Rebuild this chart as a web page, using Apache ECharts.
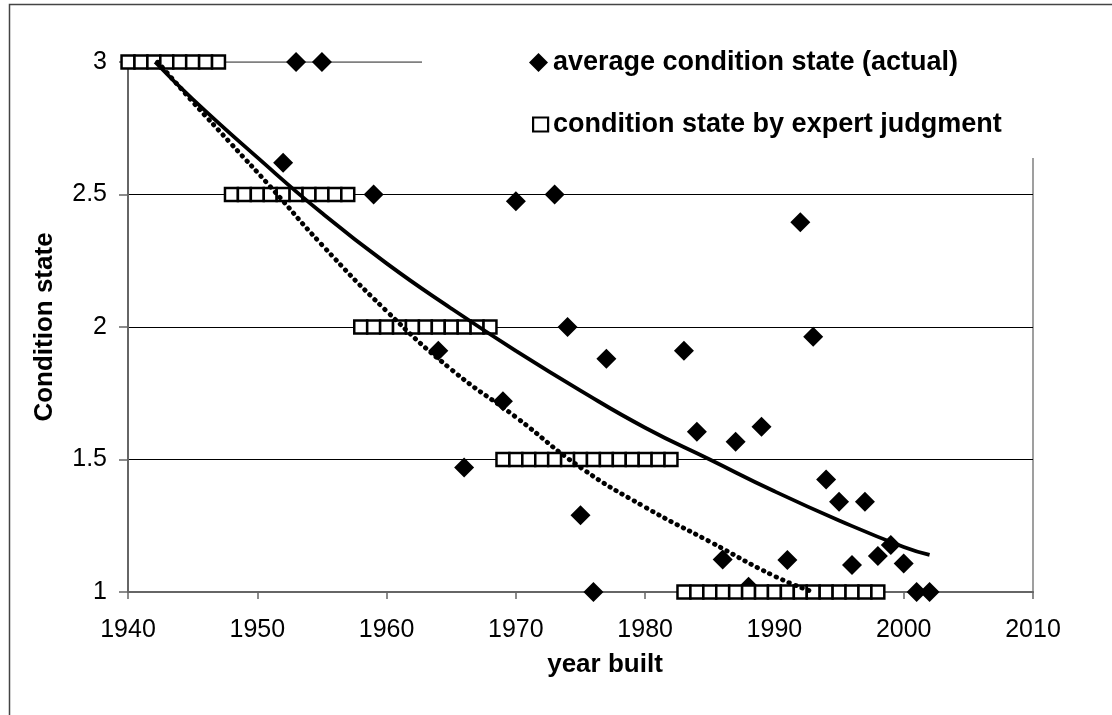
<!DOCTYPE html>
<html>
<head>
<meta charset="utf-8">
<script src="https://cdn.jsdelivr.net/npm/echarts@6/dist/echarts.min.js"></script>
<style>
html,body{margin:0;padding:0;background:#fff;}
#chart{width:1112px;height:715px;}
</style>
</head>
<body>
<div id="chart"></div>
<script>
// ---- data ----
const actualYears = [1952,1953,1955,1959,1964,1966,1969,1970,1973,1974,1975,1976,1977,1983,1984,1986,1987,1988,1989,1991,1992,1993,1994,1995,1996,1997,1998,1999,2000,2001,2002];
const actualValues = [2.62,3.0,3.0,2.5,1.91,1.47,1.72,2.475,2.5,2.0,1.29,1.0,1.88,1.91,1.605,1.123,1.567,1.02,1.624,1.121,2.395,1.963,1.425,1.341,1.102,1.341,1.136,1.177,1.108,1.0,1.0];

const expertYears = [1940,1941,1942,1943,1944,1945,1946,1947,
  1948,1949,1950,1951,1952,1953,1954,1955,1956,1957,
  1958,1959,1960,1961,1962,1963,1964,1965,1966,1967,1968,
  1969,1970,1971,1972,1973,1974,1975,1976,1977,1978,1979,1980,1981,1982,
  1983,1984,1985,1986,1987,1988,1989,1990,1991,1992,1993,1994,1995,1996,1997,1998];
const expertValues = [3,3,3,3,3,3,3,3,
  2.5,2.5,2.5,2.5,2.5,2.5,2.5,2.5,2.5,2.5,
  2,2,2,2,2,2,2,2,2,2,2,
  1.5,1.5,1.5,1.5,1.5,1.5,1.5,1.5,1.5,1.5,1.5,1.5,1.5,1.5,
  1,1,1,1,1,1,1,1,1,1,1,1,1,1,1,1];

// trend curves
const solidTrendYears = [1942.1,1945,1950,1955,1960,1965,1970,1975,1980,1985,1990,1995,2000,2002];
const solidTrendValues = [3.0,2.86,2.64,2.43,2.24,2.07,1.91,1.76,1.62,1.50,1.38,1.27,1.17,1.14];
const dottedTrendYears = [1942.3,1945,1948,1951,1955,1960,1965,1970,1975,1980,1985,1990,1993];
const dottedTrendValues = [3.0,2.85,2.69,2.53,2.31,2.06,1.84,1.66,1.47,1.32,1.19,1.06,1.0];

const xTicks = {min:1940, max:2010, interval:10};
const yTicks = {min:1, max:3, interval:0.5};

const nameActual = 'average condition state (actual)';
const nameExpert = 'condition state by expert judgment';

const zip = (a,b) => a.map((v,i)=>[v,b[i]]);
const FONT = "'Liberation Sans', Arial, sans-serif";

const chart = echarts.init(document.getElementById('chart'), null, {renderer:'canvas'});
chart.setOption({
  animation:false,
  backgroundColor:'#fff',
  grid:{left:128, top:62, right:79, bottom:123, show:true, borderColor:'#808080', borderWidth:1.5, backgroundColor:'transparent'},
  xAxis:{
    type:'value', min:xTicks.min, max:xTicks.max, interval:xTicks.interval,
    name:'year built', nameLocation:'middle', nameGap:60,
    nameTextStyle:{fontFamily:FONT, fontSize:26, fontWeight:'bold', color:'#000', padding:[0,0,0,49]},
    axisLine:{show:true, onZero:false, lineStyle:{color:'#666', width:2}},
    axisTick:{show:true, length:7, lineStyle:{color:'#666', width:1.5}},
    axisLabel:{fontFamily:FONT, fontSize:25, color:'#000', margin:26, formatter:v=>String(v)},
    splitLine:{show:false}
  },
  yAxis:{
    type:'value', min:yTicks.min, max:yTicks.max, interval:yTicks.interval,
    name:'Condition state', nameLocation:'middle', nameGap:70, nameRotate:90,
    nameTextStyle:{fontFamily:FONT, fontSize:26, fontWeight:'bold', color:'#000'},
    axisLine:{show:true, onZero:false, lineStyle:{color:'#666', width:2}},
    axisTick:{show:true, length:9, lineStyle:{color:'#666', width:1.5}},
    axisLabel:{fontFamily:FONT, fontSize:25, color:'#000', margin:21},
    splitLine:{show:true, lineStyle:{color:['#808080','#000','#000','#000','#808080'], width:1.2}}
  },
  graphic:[
    {type:'rect', left:422, top:28, shape:{width:640, height:130}, style:{fill:'#fff'}, z:10},
    {type:'rect', left:7, top:2, shape:{width:1300, height:900}, style:{fill:'none', stroke:'#444', lineWidth:1.5}, z:0, silent:true}
  ],
  legend:[
    {data:[{name:nameActual, icon:'diamond'}], left:529, top:49, padding:0, itemWidth:19, itemHeight:19,
     textStyle:{fontFamily:FONT, fontSize:27, fontWeight:'bold', color:'#000', lineHeight:26}, z:20, selectedMode:false},
    {data:[{name:nameExpert, icon:'rect', itemStyle:{borderWidth:2.2}}], left:532, top:111, padding:0, itemWidth:15, itemHeight:14,
     textStyle:{fontFamily:FONT, fontSize:27, fontWeight:'bold', color:'#000', lineHeight:26}, z:20, selectedMode:false}
  ],
  series:[
    {name:nameActual, type:'scatter', symbol:'diamond', symbolSize:20, data:zip(actualYears, actualValues),
     itemStyle:{color:'#000', opacity:1}, z:2},
    {name:nameExpert, type:'scatter', symbol:'rect', symbolSize:[12.9,13], data:zip(expertYears, expertValues),
     itemStyle:{color:'#fff', borderColor:'#000', borderWidth:2.5, opacity:1}, z:3},
    {name:'exp trend', type:'line', data:zip(solidTrendYears, solidTrendValues), smooth:0.5,
     showSymbol:false, lineStyle:{color:'#000', width:3.8}, z:5},
    {name:'expert trend', type:'line', data:zip(dottedTrendYears, dottedTrendValues), smooth:0.5,
     showSymbol:false, lineStyle:{color:'#000', width:4.8, type:[0.5,6.5], cap:'round'}, z:5}
  ]
});
</script>
</body>
</html>
